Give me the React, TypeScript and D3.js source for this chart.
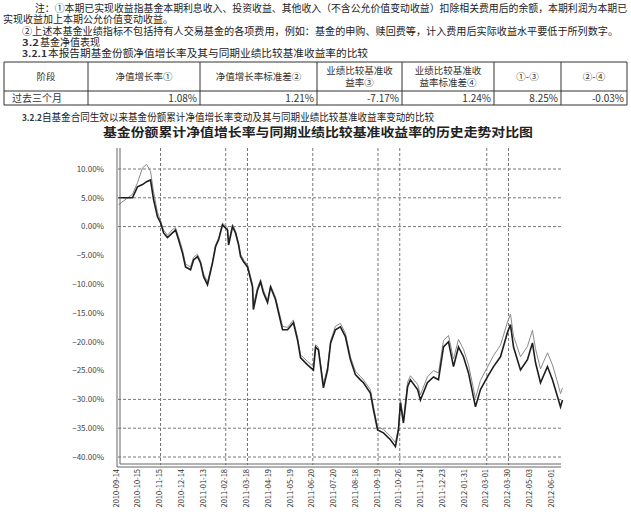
import React from "react"
import * as d3 from "d3"

// ---- text ----
const noteLines = [
  "注：①本期已实现收益指基金本期利息收入、投资收益、其他收入（不含公允价值变动收益）扣除相关费用后的余额，本期利润为本期已",
  "实现收益加上本期公允价值变动收益。",
  "②上述本基金业绩指标不包括持有人交易基金的各项费用，例如：基金的申购、赎回费等，计入费用后实际收益水平要低于所列数字。",
]
const sectionNo = ["3.2", "3.2.1", "3.2.2"]
const sectionText = [
  "基金净值表现",
  "本报告期基金份额净值增长率及其与同期业绩比较基准收益率的比较",
  "自基金合同生效以来基金份额累计净值增长率变动及其与同期业绩比较基准收益率变动的比较",
]
const chartTitle = "基金份额累计净值增长率与同期业绩比较基准收益率的历史走势对比图"

// ---- table ----
const tableHeader = [
  ["阶段"],
  ["净值增长率①"],
  ["净值增长率标准差②"],
  ["业绩比较基准收", "益率③"],
  ["业绩比较基准收", "益率标准差④"],
  ["①-③"],
  ["②-④"],
]
const tableRow = ["过去三个月", "1.08%", "1.21%", "-7.17%", "1.24%", "8.25%", "-0.03%"]

// ---- chart ----
const yTicks = [10, 5, 0, -5, -10, -15, -20, -25, -30, -35, -40]
const gridRowTicks = [10, 5, 0, -30, -35, -40]
const dateLabels = [
  "2010-09-14", "2010-10-15", "2010-11-15", "2010-12-14", "2011-01-13",
  "2011-02-18", "2011-03-18", "2011-04-19", "2011-05-19", "2011-06-20",
  "2011-07-20", "2011-08-18", "2011-09-19", "2011-10-26", "2011-11-24",
  "2011-12-23", "2012-01-31", "2012-03-01", "2012-03-30", "2012-05-03",
  "2012-06-01",
]
const gridCols = [2, 5, 6, 9, 12, 13, 17, 18]

// position along the date axis (in label intervals)
const pos = [
  0.14, 0.78, 1.01, 1.24, 1.43, 1.61, 1.75, 1.93, 2.07, 2.21, 2.39, 2.62, 2.76, 2.9, 3.08,
  3.22, 3.45, 3.59, 3.77, 3.91, 4.05, 4.23, 4.46, 4.6, 4.74, 4.92, 5.15, 5.2, 5.38, 5.52,
  5.66, 5.75, 5.89, 6.07, 6.3, 6.34, 6.53, 6.67, 6.8, 6.99, 7.13, 7.36, 7.5, 7.68, 7.91,
  8.18, 8.37, 8.51, 8.83, 9.1, 9.2, 9.33, 9.56, 9.75, 9.89, 10.11, 10.34, 10.57, 10.8, 11.03,
  11.26, 11.4, 11.72, 11.86, 12.05, 12.32, 12.64, 12.87, 13.01, 13.1, 13.24, 13.43, 13.56, 13.89, 14.02,
  14.34, 14.62, 14.85, 15.08, 15.31, 15.54, 15.77, 16.0, 16.23, 16.55, 16.78, 17.1, 17.38, 17.7, 18.02,
  18.16, 18.3, 18.62, 18.94, 19.17, 19.31, 19.54, 19.86, 20.09, 20.32, 20.46, 20.55,
]
const fund = [
  5.0, 5.0, 6.9, 7.3, 7.8, 8.1, 4.7, 1.7, 0.7, -1.1, -1.9, -1.1, -0.6, -2.3, -4.6,
  -7.0, -7.5, -5.8, -5.2, -6.3, -8.7, -10.1, -6.3, -3.5, -2.3, 0.3, -0.6, -3.2, 0.0, -1.1,
  -3.2, -5.2, -6.1, -7.0, -10.5, -14.4, -11.0, -9.6, -11.5, -13.2, -10.5, -12.7, -15.0, -17.9, -17.9,
  -16.7, -19.7, -22.8, -24.0, -24.9, -20.9, -21.4, -28.0, -24.9, -20.2, -17.9, -17.4, -19.1, -23.1, -25.7,
  -26.6, -27.1, -28.9, -31.8, -35.3, -35.8, -37.0, -38.2, -35.3, -30.6, -34.1, -27.8, -26.6, -28.3, -30.1,
  -27.1, -26.1, -26.6, -20.9, -20.0, -24.3, -20.9, -22.6, -25.4, -31.3, -28.3, -26.1, -24.3, -22.6, -18.4,
  -17.0, -20.9, -24.9, -23.1, -20.2, -23.6, -27.1, -24.3, -26.6, -29.5, -31.3, -30.1,
]
const bench = [
  3.8, 5.6, 7.6, 10.2, 10.8, 9.6, 6.0, 2.5, 1.0, -0.6, -1.5, -0.5, -0.2, -1.8, -4.0,
  -6.5, -7.0, -5.3, -4.8, -6.0, -8.2, -9.6, -6.0, -3.2, -2.0, 0.6, -0.2, -2.8, 0.4, -0.8,
  -2.9, -4.8, -5.8, -6.6, -10.0, -13.6, -10.6, -9.2, -11.0, -12.8, -10.2, -12.3, -14.5, -17.3, -17.5,
  -16.2, -19.2, -22.3, -23.4, -24.3, -20.5, -21.0, -27.3, -24.4, -19.8, -17.3, -16.8, -18.5, -22.6, -25.1,
  -26.0, -26.6, -28.3, -31.2, -34.8, -35.2, -36.4, -37.5, -34.8, -30.0, -33.5, -27.0, -25.9, -27.4, -29.2,
  -26.1, -25.0, -25.4, -19.8, -18.9, -23.0, -19.6, -21.3, -24.0, -29.8, -26.7, -24.4, -22.4, -20.6, -16.6,
  -15.2, -19.0, -22.6, -20.8, -18.0, -21.2, -24.7, -21.9, -24.0, -27.0, -29.0, -28.0,
]

const font = "'Noto Sans CJK SC', sans-serif"
const colEdges = [4, 88, 200, 317, 402, 494, 561, 627]

const App: React.FC = () => {
  const plot = { left: 118, right: 561, top: 148, bottom: 465 }

  const x = d3.scaleLinear().domain([0, 20]).range([115.5, 550.5])
  const y = d3.scaleLinear().domain([10, -40]).range([169, 457])

  const line = d3.line<number>()
    .x((d, i) => x(pos[i]))
    .y(d => y(d))

  return (
    <svg width={631} height={515} style={{ position: "absolute", left: 0, top: 0, background: "#fff" }}
      fontFamily={font}>
      {/* notes */}
      <text x={35} y={12} fontSize={10} fill="#222" textLength={592} lengthAdjust="spacingAndGlyphs">{noteLines[0]}</text>
      <text x={3} y={23} fontSize={10} fill="#222">{noteLines[1]}</text>
      <text x={22} y={35} fontSize={10} fill="#222" textLength={596} lengthAdjust="spacingAndGlyphs">{noteLines[2]}</text>
      {/* sections */}
      <text x={22} y={46} fontSize={8.5} fontWeight="bold" fill="#333" textLength={17} lengthAdjust="spacingAndGlyphs">{sectionNo[0]}</text>
      <text x={40} y={46} fontSize={10} fill="#222">{sectionText[0]}</text>
      <text x={22} y={57} fontSize={8.5} fontWeight="bold" fill="#333" textLength={25} lengthAdjust="spacingAndGlyphs">{sectionNo[1]}</text>
      <text x={48} y={57} fontSize={10} fill="#222" textLength={320} lengthAdjust="spacingAndGlyphs">{sectionText[1]}</text>

      {/* table */}
      <g stroke="#333" strokeWidth={1}>
        <line x1={colEdges[0]} x2={colEdges[7]} y1={62} y2={62} />
        <line x1={colEdges[0]} x2={colEdges[7]} y1={91} y2={91} />
        <line x1={colEdges[0]} x2={colEdges[7]} y1={105} y2={105} />
        {colEdges.map(c => <line key={c} x1={c} x2={c} y1={62} y2={105} />)}
      </g>
      {tableHeader.map((h, i) => {
        const cx = (colEdges[i] + colEdges[i + 1]) / 2
        return h.map((s, j) => (
          <text key={i + "-" + j} x={cx} y={h.length === 1 ? 80 : 74 + j * 11.5}
            fontSize={9.5} fill="#333" textAnchor="middle">{s}</text>
        ))
      })}
      {tableRow.map((s, i) => (
        <text key={i} x={i === 0 ? 12 : colEdges[i + 1] - 3} y={102}
          fontSize={10} fill="#333" textAnchor={i === 0 ? "start" : "end"}>{s}</text>
      ))}

      <text x={22} y={121} fontSize={8.5} fontWeight="bold" fill="#333" textLength={20} lengthAdjust="spacingAndGlyphs">{sectionNo[2]}</text>
      <text x={42} y={121} fontSize={10} fill="#222" textLength={392} lengthAdjust="spacingAndGlyphs">{sectionText[2]}</text>

      {/* chart */}
      <text x={318} y={137} fontSize={12.5} fontWeight="bold" fill="#222" textAnchor="middle"
        textLength={430} lengthAdjust="spacingAndGlyphs">{chartTitle}</text>

      <g stroke="#777" strokeWidth={1} strokeDasharray="3,2">
        {gridRowTicks.map(t => (
          <line key={t} x1={plot.left} x2={plot.right} y1={y(t)} y2={y(t)} />
        ))}
        {gridCols.map(c => (
          <line key={c} x1={x(c) + 1.5} x2={x(c) + 1.5} y1={plot.top} y2={plot.bottom} />
        ))}
      </g>

      <path d={line(bench) || ""} fill="none" stroke="#8a8a8a" strokeWidth={1} />
      <path d={line(fund) || ""} fill="none" stroke="#1e1e1e" strokeWidth={1.6} />

      {/* axes (double lines) */}
      <g stroke="#666" strokeWidth={1} fill="none">
        <line x1={117} x2={117} y1={plot.top} y2={plot.bottom + 2} />
        <line x1={120} x2={120} y1={plot.top} y2={plot.bottom - 1} />
        <line x1={117} x2={plot.right} y1={plot.bottom + 2} y2={plot.bottom + 2} />
        <line x1={120} x2={plot.right} y1={plot.bottom - 1} y2={plot.bottom - 1} />
      </g>

      {yTicks.map(t => (
        <text key={t} x={104} y={y(t)} dy="0.35em" fontSize={8} fill="#444" textAnchor="end">
          {d3.format(".2f")(t) + "%"}
        </text>
      ))}
      {dateLabels.map((d, i) => (
        <text key={d} transform={`translate(${x(i) + 3},${469}) rotate(-90)`}
          fontSize={7.5} fill="#333" textAnchor="end">{d}</text>
      ))}
    </svg>
  )
}

export default App
